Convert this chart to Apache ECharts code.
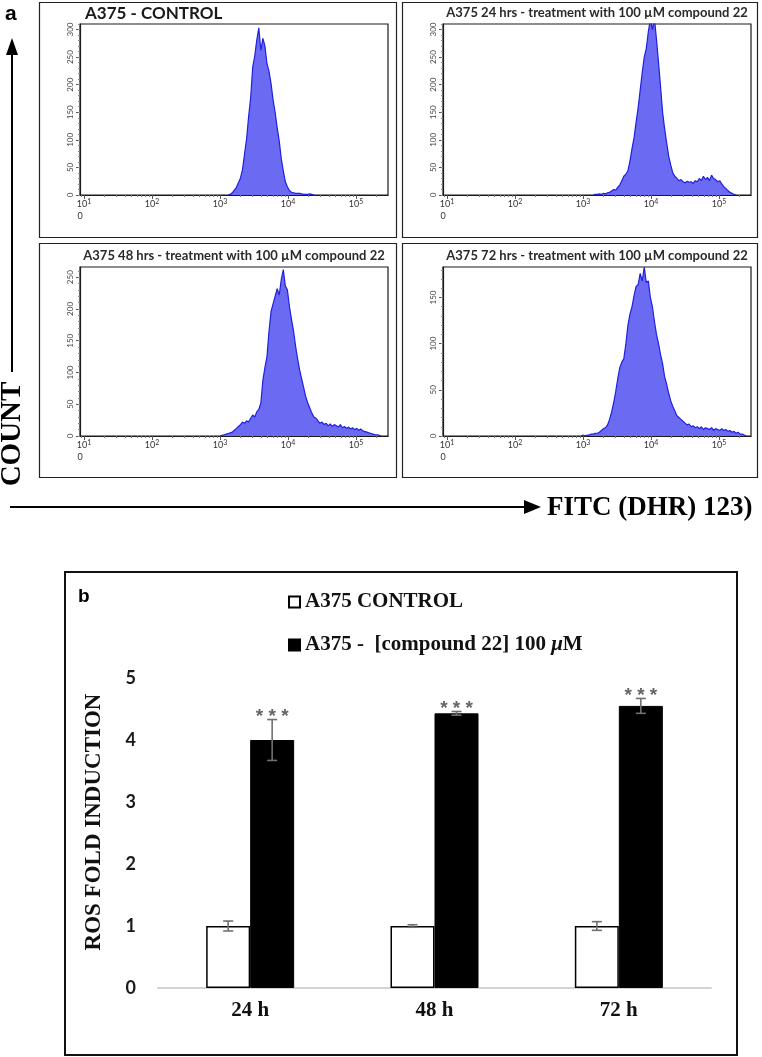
<!DOCTYPE html>
<html><head><meta charset="utf-8">
<script src="https://cdn.jsdelivr.net/npm/echarts@6/dist/echarts.min.js"></script>
<style>html,body{margin:0;padding:0;background:#fff}#c{width:762px;height:1057px}</style>
</head><body><div id="c"></div>
<script>
// ---------- Panel a : flow-cytometry histograms (x = log10 FITC intensity) ----------
const binWidth = 0.03;
const ctrlStart = 3.12;
const ctrlCounts = [0,1,4,9,14,22,31,46,74,102,142,176,232,252,281,303,262,284,270,238,224,202,172,150,122,98,66,44,24,15,8,5,4,3,3,3,2,1,1,1,2,1,0];
const h24Start = 3.15;
const h24Counts = [0,1,1,2,1,3,2,4,5,7,10,9,14,18,26,34,38,44,62,84,104,132,158,190,222,250,266,296,318,300,320,282,240,196,150,120,94,70,54,40,34,30,26,28,24,22,25,23,24,21,26,24,30,26,34,28,32,26,36,30,28,24,26,20,15,12,8,5,3,1,0];
const h48Start = 3.00;
const h48Counts = [0,1,2,3,4,5,6,9,12,15,18,22,20,24,22,28,33,30,38,42,52,88,108,125,165,196,208,220,232,222,246,262,236,230,204,184,166,142,122,104,90,76,62,52,44,36,30,28,24,20,22,18,20,16,19,15,18,16,14,18,13,15,12,14,11,13,10,12,9,11,8,7,6,5,4,3,2,2,1,0];
const h72Start = 2.97;
const h72Counts = [0,1,0,1,1,2,2,3,3,4,6,8,9,12,18,26,36,48,62,74,80,84,100,120,132,140,152,162,164,176,168,183,166,168,150,140,124,110,100,88,78,64,56,46,38,32,27,22,20,18,16,14,12,13,10,11,9,10,8,10,7,9,8,7,9,6,8,7,6,8,6,7,5,6,4,5,3,4,2,2,1,0];

const panelTitles = ['A375 - CONTROL',
  'A375 24 hrs - treatment with 100 µM compound 22',
  'A375 48 hrs - treatment with 100 µM compound 22',
  'A375 72 hrs - treatment with 100 µM compound 22'];
const yMaxes = [310, 310, 266, 183];
const yTickLabels = [[0,50,100,150,200,250,300],[0,50,100,150,200,250,300],[0,50,100,150,200,250],[0,50,100,150]];
const xMin = 0.94, xMax = 5.47;
const decades = [1,2,3,4,5];
const minorMult = [2,3,4,5,6,7,8,9];

// ---------- Panel b : ROS fold induction ----------
const timepoints = ['24 h','48 h','72 h'];
const controlName = 'A375 CONTROL';
const treatedName = 'A375 -  [compound 22] 100 μM';
const controlMean = [1.0, 1.0, 1.0];
const controlErr  = [0.08, 0.02, 0.07];
const treatedMean = [4.0, 4.43, 4.55];
const treatedErr  = [0.33, 0.03, 0.12];
const sigMarks = ['* * *','* * *','* * *'];
const rosTicks = [0,1,2,3,4,5];

// ---------- build ----------
const hists = [[ctrlStart, ctrlCounts],[h24Start,h24Counts],[h48Start,h48Counts],[h72Start,h72Counts]];
const gridPos = [
  {left:80, top:24, width:308, height:171},
  {left:443, top:24, width:308, height:171},
  {left:80, top:267, width:308, height:169},
  {left:443, top:267, width:308, height:169}];
const minorX = [];
[0,1,2,3,4,5].forEach(n => minorMult.forEach(m => { const v = Math.log10(m) + n; if (v > xMin && v < xMax) minorX.push(v); }));

const grids = [], xAxes = [], yAxes = [], series = [];
const smallFont = 'Lato';
gridPos.forEach((g, k) => {
  grids.push(Object.assign({show:true, borderColor:'#1a1a1a', borderWidth:1.2, backgroundColor:'#fff'}, g));
  xAxes.push({type:'value', gridIndex:k, min:xMin, max:xMax, position:'bottom',
    axisLine:{show:true, onZero:false, lineStyle:{color:'#1a1a1a', width:1.2}}, splitLine:{show:false},
    axisTick:{show:true, customValues:decades, length:4, lineStyle:{color:'#555'}},
    axisLabel:{customValues:[xMin].concat(decades), margin:3, color:'#333', fontFamily:smallFont, fontSize:9,
      formatter: v => v < 1 ? '{z|0}' : '{b|10}{s|' + Math.round(v) + '}',
      rich:{b:{fontSize:9, color:'#333', fontFamily:smallFont}, s:{fontSize:7, color:'#333', fontFamily:smallFont, padding:[0,0,6,0]}, z:{fontSize:9, color:'#333', fontFamily:smallFont, padding:[14,0,0,0]}}}});
  xAxes.push({type:'value', gridIndex:k, min:xMin, max:xMax, position:'bottom',
    axisLine:{show:false}, splitLine:{show:false}, axisLabel:{show:false},
    axisTick:{show:true, customValues:minorX, length:2, lineStyle:{color:'#777'}}});
  const minorY = [];
  for (let v = 0; v <= yMaxes[k]; v += 10) minorY.push(v);
  yAxes.push({type:'value', gridIndex:k, min:0, max:yMaxes[k],
    axisLine:{show:true, lineStyle:{color:'#1a1a1a', width:1.2}}, splitLine:{show:false},
    axisTick:{show:true, customValues:yTickLabels[k], length:4, lineStyle:{color:'#555'}},
    axisLabel:{customValues:yTickLabels[k], rotate:90, margin:6, color:'#444', fontFamily:smallFont, fontSize:8}});
  yAxes.push({type:'value', gridIndex:k, min:0, max:yMaxes[k], position:'left',
    axisLine:{show:false}, splitLine:{show:false}, axisLabel:{show:false},
    axisTick:{show:true, customValues:minorY, length:2, lineStyle:{color:'#888'}}});
  const [start, counts] = hists[k];
  series.push({type:'line', xAxisIndex:2*k, yAxisIndex:2*k, symbol:'none', clip:true,
    data: counts.map((c, i) => [start + i * binWidth, c]),
    lineStyle:{color:'#2020e0', width:1.2}, areaStyle:{color:'#6a6af2', opacity:1}, z:3});
});

// panel b axes
grids.push({left:158, top:678, width:553, height:310});
xAxes.push({type:'category', gridIndex:4, data:timepoints,
  axisLine:{show:true, lineStyle:{color:'#d4d4d4', width:2}}, axisTick:{show:false},
  axisLabel:{color:'#111', fontFamily:'Liberation Serif', fontWeight:'bold', fontSize:21, margin:12}});
yAxes.push({type:'value', gridIndex:4, min:0, max:5, interval:1,
  axisLine:{show:false}, axisTick:{show:false}, splitLine:{show:false},
  axisLabel:{color:'#1a1a1a', fontFamily:'Lato', fontWeight:'bold', fontSize:18, margin:22},
  name:'ROS FOLD INDUCTION', nameLocation:'middle', nameGap:52,
  nameTextStyle:{color:'#111', fontFamily:'Liberation Serif', fontWeight:'bold', fontSize:23, padding:[0,0,0,22]}});

series.push({type:'bar', name:controlName, xAxisIndex:8, yAxisIndex:8, data:controlMean, barWidth:44, barGap:'0%',
  itemStyle:{color:'#fff', borderColor:'#000', borderWidth:1.5}});
series.push({type:'bar', name:treatedName, xAxisIndex:8, yAxisIndex:8, data:treatedMean, barWidth:44, barGap:'0%',
  itemStyle:{color:'#000', borderColor:'#000', borderWidth:1}});

function errRender(offset, marks) {
  return function (params, api) {
    const i = api.value(0), m = api.value(1), e = api.value(2);
    const x = api.coord([i, m])[0] + offset;
    const yT = api.coord([i, m + e])[1], yB = api.coord([i, m - e])[1];
    const st = {stroke:'#707070', lineWidth:1.6};
    const ch = [
      {type:'line', shape:{x1:x, y1:yT, x2:x, y2:yB}, style:st},
      {type:'line', shape:{x1:x-5, y1:yT, x2:x+5, y2:yT}, style:st},
      {type:'line', shape:{x1:x-5, y1:yB, x2:x+5, y2:yB}, style:st}];
    if (marks) ch.push({type:'text', x:x, y:yT - 3, style:{text:marks[params.dataIndex], fill:'#666',
      font:'bold 19px "Liberation Sans"', textAlign:'center', textVerticalAlign:'middle'}});
    return {type:'group', children:ch};
  };
}
series.push({type:'custom', xAxisIndex:8, yAxisIndex:8, z:5, renderItem:errRender(-22, null),
  encode:{x:0, y:1}, data: controlMean.map((m, i) => [i, m, controlErr[i]])});
series.push({type:'custom', xAxisIndex:8, yAxisIndex:8, z:5, renderItem:errRender(22, sigMarks),
  encode:{x:0, y:1}, data: treatedMean.map((m, i) => [i, m, treatedErr[i]])});

// ---------- graphics (frames, panel labels, big axis arrows) ----------
const boxes = [[39.5,2.5,357,235],[402.5,2.5,355,235],[39.5,243.5,357,234],[402.5,243.5,355,234]];
const graphics = boxes.map(b => ({type:'rect', shape:{x:b[0], y:b[1], width:b[2], height:b[3]},
  style:{fill:'none', stroke:'#222', lineWidth:1.2}, z:-1}));
graphics.push({type:'rect', shape:{x:65, y:572, width:672, height:483}, style:{fill:'none', stroke:'#111', lineWidth:2}});
graphics.push({type:'text', x:85, y:14, style:{text:panelTitles[0], font:'bold 17px Lato', fill:'#1a1a1a', textVerticalAlign:'middle'}});
[[597,13],[234,256],[597,256]].forEach((p, k) => graphics.push({type:'text', x:p[0], y:p[1],
  style:{text:panelTitles[k+1], font:'bold 13px Lato', fill:'#2a2a2a', textAlign:'center', textVerticalAlign:'middle'}}));
graphics.push({type:'text', x:5, y:14, style:{text:'a', font:'bold 21px "Liberation Sans"', fill:'#000', textVerticalAlign:'middle'}});
graphics.push({type:'text', x:78, y:597, style:{text:'b', font:'bold 19px "Liberation Sans"', fill:'#000', textVerticalAlign:'middle'}});
// vertical arrow + COUNT
graphics.push({type:'line', shape:{x1:12, y1:372, x2:12, y2:50}, style:{stroke:'#000', lineWidth:2}});
graphics.push({type:'polygon', shape:{points:[[12,38],[6,55],[18,55]]}, style:{fill:'#000'}});
graphics.push({type:'text', x:13, y:434, rotation:Math.PI/2, style:{text:'COUNT', font:'bold 29px "Liberation Serif"', fill:'#000', textAlign:'center', textVerticalAlign:'middle'}});
// horizontal arrow + FITC
graphics.push({type:'line', shape:{x1:10, y1:507, x2:528, y2:507}, style:{stroke:'#000', lineWidth:2}});
graphics.push({type:'polygon', shape:{points:[[541,507],[524,500],[524,514]]}, style:{fill:'#000'}});
graphics.push({type:'text', x:547, y:508, style:{text:'FITC (DHR) 123)', font:'bold 27px "Liberation Serif"', fill:'#000', textVerticalAlign:'middle'}});

const chart = echarts.init(document.getElementById('c'), null, {renderer:'canvas'});
chart.setOption({
  animation:false, backgroundColor:'#fff',
  grid:grids, xAxis:xAxes, yAxis:yAxes, series:series, graphic:graphics,
  legend:{left:283, top:586, orient:'vertical', itemWidth:11, itemHeight:11, itemGap:21, icon:'rect', selectedMode:false,
    data:[controlName, treatedName],
    formatter: n => n.replace('μ', '{i|μ}'),
    textStyle:{fontFamily:'Liberation Serif', fontWeight:'bold', fontSize:21, color:'#111', lineHeight:22,
      rich:{i:{fontFamily:'Liberation Serif', fontWeight:'bold', fontStyle:'italic', fontSize:21, color:'#111'}}}}
});
</script></body></html>
